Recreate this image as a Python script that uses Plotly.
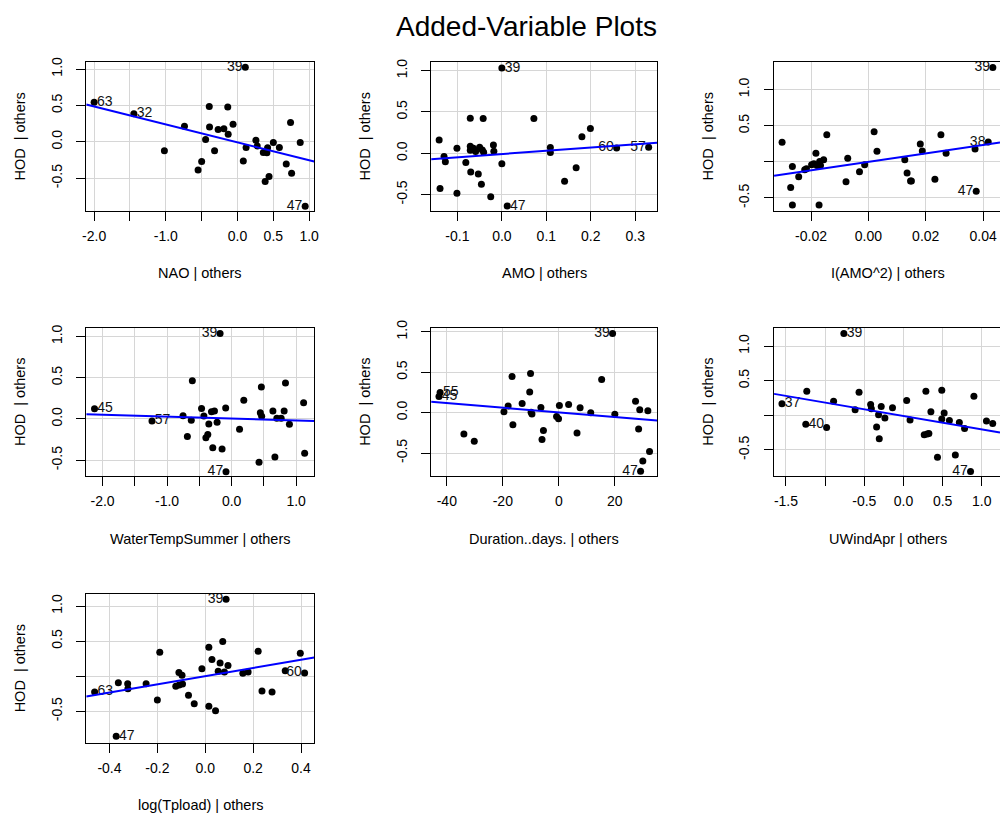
import plotly.graph_objects as go

# ---------------- data ----------------
nao_x = [-2.0, -1.446, -1.02, -0.74, -0.55, -0.50, -0.445, -0.394, -0.39, -0.32, -0.27, -0.19,
         -0.136, -0.13, -0.062, 0.081, 0.109, 0.12, 0.257, 0.275, 0.36, 0.386, 0.41, 0.42,
         0.44, 0.50, 0.584, 0.68, 0.74, 0.755, 0.875, 0.944]
nao_y = [0.545, 0.386, -0.123, 0.214, -0.386, -0.27, 0.032, 0.486, 0.205, -0.123, 0.168, 0.18,
         0.477, 0.105, 0.241, -0.264, 1.023, -0.077, 0.023, -0.059, -0.145, -0.545, -0.15, -0.082,
         -0.477, -0.009, -0.077, -0.305, 0.264, -0.432, -0.009, -0.886]
nao_lbl = ["63", "32"] + [""] * 14 + ["39"] + [""] * 14 + ["47"]

amo_x = [-0.141, -0.139, -0.130, -0.127, -0.101, -0.101, -0.081, -0.071, -0.071, -0.071, -0.070,
         -0.064, -0.059, -0.053, -0.050, -0.046, -0.044, -0.042, -0.041, -0.025, -0.019, -0.018,
         0.000, 0.000, 0.012, 0.072, 0.109, 0.109, 0.141, 0.167, 0.180, 0.199, 0.258, 0.330]
amo_y = [0.16, -0.428, -0.04, -0.104, 0.06, -0.484, -0.112, 0.424, 0.084, 0.036, -0.228,
         0.06, 0.02, -0.252, 0.072, -0.376, 0.04, 0.42, 0.012, -0.528, 0.10, 0.024,
         1.032, -0.128, -0.64, 0.42, 0.068, 0.008, -0.34, -0.176, 0.20, 0.30, 0.064, 0.072]
amo_lbl = [""] * 22 + ["39", "", "47"] + [""] * 7 + ["60", "57"]

amo2_x = [-0.0301, -0.0271, -0.0265, -0.0265, -0.0243, -0.0222, -0.0216, -0.0198, -0.0190, -0.0183,
          -0.0179, -0.0172, -0.0170, -0.0167, -0.0156, -0.0145, -0.0078, -0.0072, -0.0031, -0.0013,
          0.0020, 0.0030, 0.0127, 0.0135, 0.0147, 0.0150, 0.0181, 0.0188, 0.0232, 0.0253,
          0.0271, 0.0372, 0.0418, 0.0376, 0.0434]
amo2_y = [0.269, -0.356, -0.064, -0.598, -0.205, -0.110, -0.096, -0.041, -0.027, 0.119,
          -0.050, -0.598, 0.005, -0.050, 0.027, 0.374, -0.274, 0.050, -0.137, -0.041,
          0.416, 0.146, 0.027, -0.155, -0.265, -0.265, 0.247, 0.151, -0.242, 0.374,
          0.119, 0.178, 0.274, -0.406, 1.306]
amo2_lbl = [""] * 32 + ["38", "47", "39"]

wts_x = [-2.125, -1.234, -0.753, -0.686, -0.625, -0.609, -0.466, -0.430, -0.399, -0.369, -0.353,
         -0.312, -0.292, -0.266, -0.225, -0.179, -0.148, -0.092, -0.087, 0.123, 0.189, 0.425,
         0.445, 0.461, 0.466, 0.640, 0.671, 0.701, 0.768, 0.814, 0.835, 0.896, 1.116, 1.132]
wts_y = [0.124, -0.024, 0.04, -0.212, -0.016, 0.464, 0.128, 0.036, -0.228, -0.188, -0.06,
         0.088, -0.348, 0.096, -0.04, 1.036, -0.364, 0.132, -0.64, -0.124, 0.228, -0.524,
         0.076, 0.388, 0.032, 0.096, -0.46, 0.008, 0.008, 0.096, 0.436, -0.064, 0.196, -0.416]
wts_lbl = ["45", "57"] + [""] * 13 + ["39", "", "", "47"] + [""] * 15

dur_x = [-42.8, -42.4, -33.9, -30.2, -19.6, -18.1, -16.7, -16.4, -13.1, -10.4, -10.1, -9.9,
         -9.6, -6.4, -6.0, -5.5, -0.8, -0.1, 0.2, 3.5, 6.5, 7.6, 11.4, 15.3, 19.2, 20.0,
         27.4, 28.5, 28.9, 29.2, 30.0, 31.8, 32.4]
dur_y = [0.20, 0.25, -0.264, -0.354, 0.012, 0.081, 0.447, -0.150, 0.114, 0.256, 0.484, 0.004,
         -0.016, 0.065, -0.333, -0.220, -0.049, -0.077, 0.089, 0.102, -0.252, 0.061, 0.0, 0.411,
         0.98, -0.020, 0.142, -0.203, 0.037, -0.724, -0.598, 0.024, -0.480]
dur_lbl = ["45", "55"] + [""] * 22 + ["39"] + [""] * 4 + ["47"] + [""] * 3

uw_x = [-1.551, -1.247, -1.234, -0.981, -0.892, -0.761, -0.617, -0.567, -0.419, -0.410, -0.343,
        -0.318, -0.309, -0.284, -0.237, -0.140, 0.041, 0.084, 0.265, 0.286, 0.303, 0.324, 0.350,
        0.434, 0.489, 0.489, 0.519, 0.586, 0.662, 0.713, 0.780, 0.856, 0.899, 1.059, 1.139]
uw_y = [0.167, -0.129, 0.348, -0.176, 0.205, 1.181, 0.081, 0.333, 0.157, 0.095, -0.167,
        0.010, -0.338, 0.129, -0.038, 0.110, 0.214, -0.067, -0.281, 0.348, -0.271, -0.262, 0.052,
        -0.605, 0.362, -0.052, 0.033, -0.076, -0.571, -0.105, -0.190, -0.810, 0.276, -0.081, -0.119]
uw_lbl = ["37", "40", "", "", "", "39"] + [""] * 25 + ["47", "", "", ""]

tp_x = [-0.462, -0.372, -0.363, -0.324, -0.323, -0.247, -0.200, -0.190, -0.123, -0.110, -0.109,
        -0.097, -0.095, -0.070, -0.046, -0.014, 0.015, 0.015, 0.028, 0.043, 0.054, 0.062, 0.073,
        0.080, 0.087, 0.095, 0.157, 0.179, 0.221, 0.237, 0.279, 0.334, 0.397, 0.415]
tp_y = [-0.224, -0.855, -0.093, -0.107, -0.178, -0.107, -0.341, 0.341, -0.145, 0.051, -0.126,
        0.014, -0.112, -0.271, -0.393, 0.107, 0.411, -0.430, 0.238, -0.491, 0.070, 0.187, 0.495,
        0.061, 1.098, 0.154, 0.042, 0.061, 0.355, -0.210, -0.224, 0.079, 0.327, 0.047]
tp_lbl = ["63", "47"] + [""] * 22 + ["39"] + [""] * 8 + ["60"]

# fitted line (slope, intercept)
fit_slope = [-0.2465, 0.394, 5.85, -0.0226, -0.00288, -0.1935, 0.584]
fit_intercept = [-0.007, -0.009, 0.0, 0.005, 0.003, -0.010, 0.0]

x_titles = ["NAO | others", "AMO | others", "I(AMO^2) | others", "WaterTempSummer | others",
            "Duration..days. | others", "UWindApr | others", "log(Tpload) | others"]
y_title = "HOD \u00a0| others"
main_title = "Added-Variable Plots"

x_tickvals = [[-2, -1.5, -1, -0.5, 0, 0.5, 1], [-0.1, 0, 0.1, 0.2, 0.3], [-0.02, 0, 0.02, 0.04],
              [-2, -1.5, -1, -0.5, 0, 0.5, 1], [-40, -20, 0, 20], [-1.5, -1, -0.5, 0, 0.5, 1],
              [-0.4, -0.2, 0, 0.2, 0.4]]
x_ticktext = [["-2.0", "", "-1.0", "", "0.0", "0.5", "1.0"], ["-0.1", "0.0", "0.1", "0.2", "0.3"],
              ["-0.02", "0.00", "0.02", "0.04"], ["-2.0", "", "-1.0", "", "0.0", "", "1.0"],
              ["-40", "-20", "0", "20"], ["-1.5", "", "-0.5", "0.0", "0.5", "1.0"],
              ["-0.4", "-0.2", "0.0", "0.2", "0.4"]]
y_tickvals = [-0.5, 0, 0.5, 1.0]
y_ticktext = [["-0.5", "0.0", "0.5", "1.0"], ["-0.5", "0.0", "0.5", "1.0"], ["-0.5", "", "0.5", "1.0"],
              ["-0.5", "0.0", "0.5", "1.0"], ["-0.5", "0.0", "0.5", "1.0"], ["-0.5", "", "0.5", "1.0"],
              ["-0.5", "", "0.5", "1.0"]]

# ---------------- layout geometry ----------------
W, H = 1005, 822
x_ranges = [[-2.11, 1.07], [-0.159, 0.349], [-0.0329, 0.0459], [-2.253, 1.280],
            [-45.6, 35.1], [-1.652, 1.232], [-0.497, 0.455]]
y_ranges = [[-0.95, 1.09], [-0.70, 1.10], [-0.68, 1.374], [-0.696, 1.104],
            [-0.789, 1.049], [-0.881, 1.262], [-0.949, 1.168]]
col_px = [(83, 313), (431, 659), (777, 1005)]
row_px = [(55, 205), (323, 473), (592, 742)]
clipped = [False, False, True, False, False, True, False]

panels = [(nao_x, nao_y, nao_lbl), (amo_x, amo_y, amo_lbl), (amo2_x, amo2_y, amo2_lbl),
          (wts_x, wts_y, wts_lbl), (dur_x, dur_y, dur_lbl), (uw_x, uw_y, uw_lbl),
          (tp_x, tp_y, tp_lbl)]

FONT = "Liberation Sans, Arial, sans-serif"
PAD = "\u2009"
fig = go.Figure()
annotations = []
layout = {}

for i, (xs, ys, lbls) in enumerate(panels):
    r, c = divmod(i, 3)
    k = "" if i == 0 else str(i + 1)
    xa, ya = "x" + k, "y" + k
    x0p, x1p = col_px[c]
    y0p, y1p = row_px[r]
    xr, yr = x_ranges[i], y_ranges[i]

    # points
    fig.add_trace(go.Scatter(x=xs, y=ys, mode="markers", xaxis=xa, yaxis=ya,
                             marker=dict(color="black", size=7), cliponaxis=False,
                             showlegend=False, hoverinfo="skip"))
    # labels (left of the point on the right half, right of it on the left half)
    mid = (min(xs) + max(xs)) / 2
    lx = [x for x, l in zip(xs, lbls) if l]
    ly = [y for y, l in zip(ys, lbls) if l]
    lraw = [l for l in lbls if l]
    left = [x > mid for x in lx]
    lt = [l + PAD if lf else PAD + l for l, lf in zip(lraw, left)]
    lp = ["middle left" if lf else "middle right" for lf in left]
    fig.add_trace(go.Scatter(x=lx, y=ly, mode="text", text=lt, textposition=lp,
                             textfont=dict(family=FONT, size=14, color="#111"),
                             xaxis=xa, yaxis=ya, cliponaxis=False, showlegend=False,
                             hoverinfo="skip"))
    # fit line across the plot region
    fx = [xr[0], xr[1]]
    fy = [fit_intercept[i] + fit_slope[i] * v for v in fx]
    fig.add_trace(go.Scatter(x=fx, y=fy, mode="lines", xaxis=xa, yaxis=ya,
                             line=dict(color="#0000ff", width=2), showlegend=False,
                             hoverinfo="skip"))

    common = dict(showgrid=True, gridcolor="#d6d6d6", gridwidth=1, zeroline=False,
                  showline=True, linecolor="black", linewidth=1, ticks="outside",
                  ticklen=9, tickcolor="black", tickwidth=1,
                  tickfont=dict(family=FONT, size=14, color="black"))
    layout["xaxis" + k] = dict(common, domain=[x0p / W, x1p / W], range=xr, anchor=ya,
                               mirror=True, tickmode="array", tickvals=x_tickvals[i],
                               ticktext=x_ticktext[i], ticklabelstandoff=3)
    layout["yaxis" + k] = dict(common, domain=[1 - y1p / H, 1 - y0p / H], range=yr, anchor=xa,
                               mirror=not clipped[i], tickmode="array", tickvals=y_tickvals,
                               ticktext=y_ticktext[i], tickangle=-90, ticklabelstandoff=9)

    # axis titles
    annotations.append(dict(text=x_titles[i], x=(x0p + (x1p if not clipped[i] else 1007)) / 2 / W,
                            y=1 - (y1p + 63) / H, xref="paper", yref="paper",
                            xanchor="center", yanchor="middle", showarrow=False,
                            font=dict(family=FONT, size=14.5, color="black")))
    annotations.append(dict(text=y_title, x=(x0p - 67) / W, y=1 - (y0p + y1p) / 2 / H,
                            xref="paper", yref="paper", xanchor="center", yanchor="middle",
                            textangle=-90, showarrow=False,
                            font=dict(family=FONT, size=14.5, color="black")))

annotations.append(dict(text=main_title, x=527 / W, y=1 - 19 / H, xref="paper", yref="paper",
                        xanchor="center", yanchor="middle", showarrow=False,
                        font=dict(family=FONT, size=28, color="black")))

fig.update_layout(width=W, height=H, margin=dict(l=0, r=0, t=0, b=0),
                  paper_bgcolor="white", plot_bgcolor="white", annotations=annotations,
                  **layout)

fig.write_html("out.html")
